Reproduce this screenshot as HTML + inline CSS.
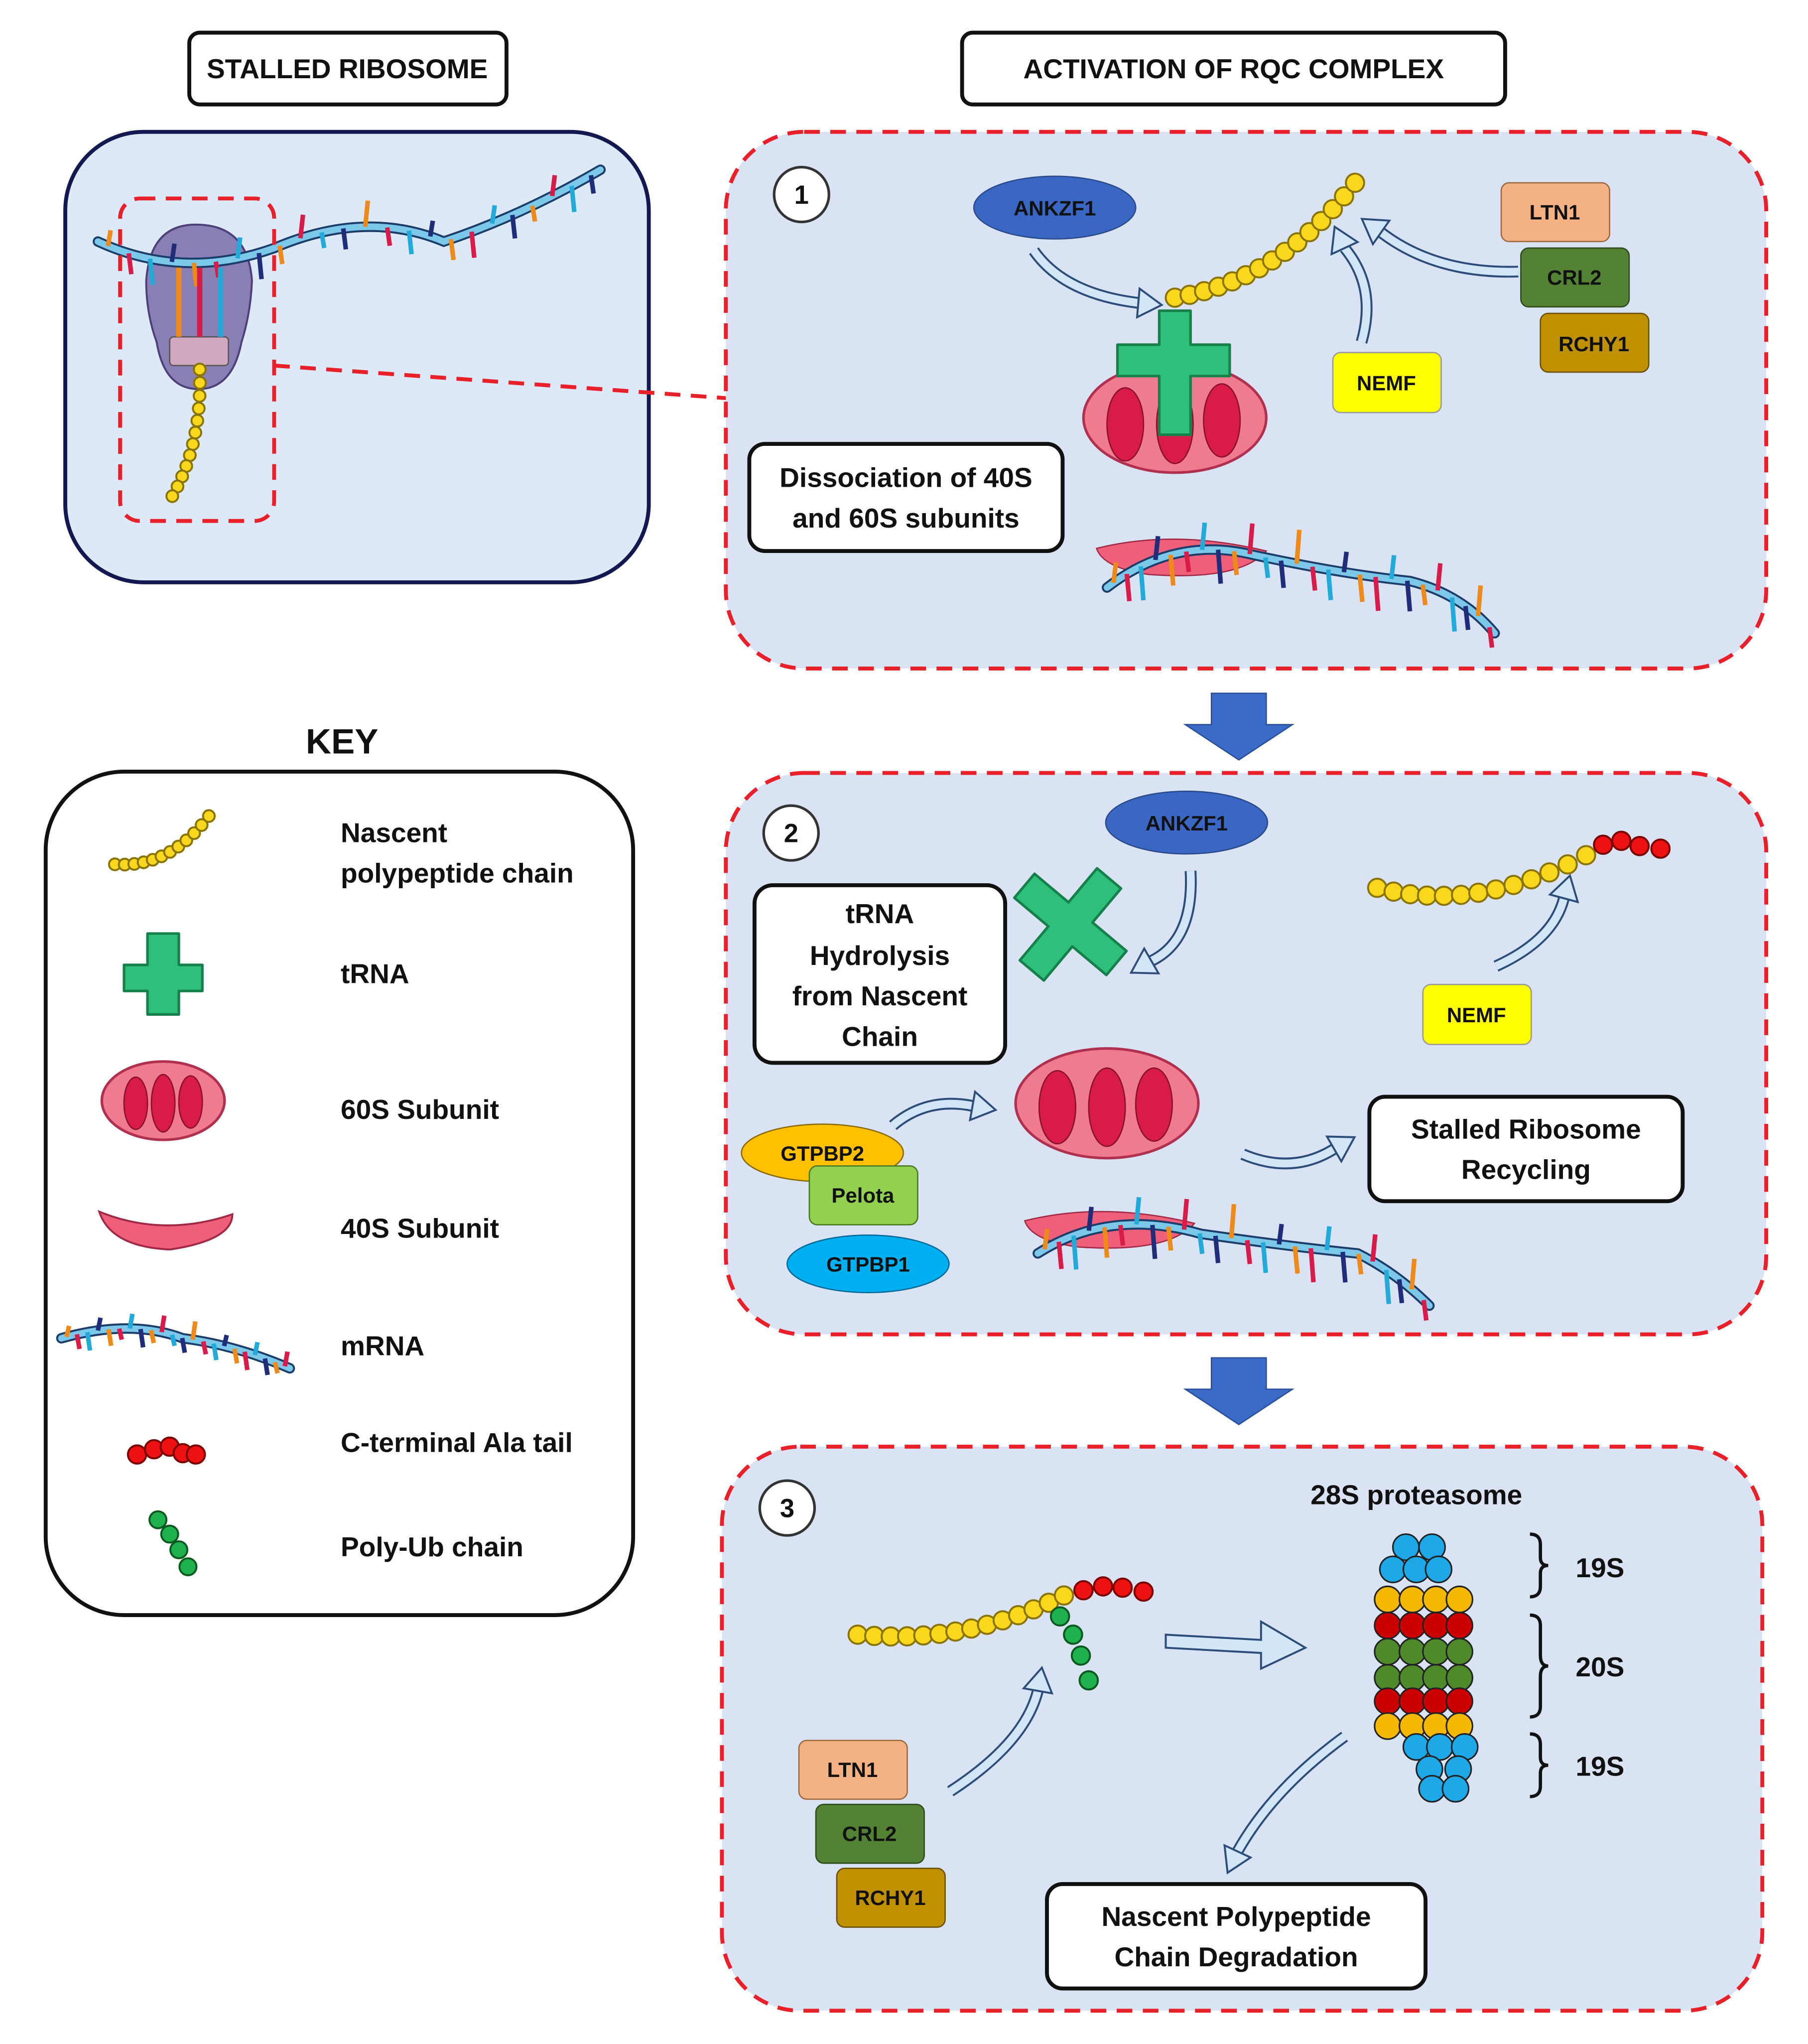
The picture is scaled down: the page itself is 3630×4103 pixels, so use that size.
<!DOCTYPE html>
<html><head><meta charset="utf-8"><style>
html,body{margin:0;padding:0;background:#fff;}
svg{display:block;}
text{font-family:"Liberation Sans",sans-serif;font-weight:bold;fill:#111;}
</style></head><body>
<svg id="s" width="3630" height="4103" viewBox="0 0 1385 1565.5" preserveAspectRatio="none" xmlns="http://www.w3.org/2000/svg">
<rect width="1385" height="1566" fill="#fff"/>
<rect x="145" y="25" width="243" height="55" rx="8" fill="#fff" stroke="#111" stroke-width="3"/>
<text x="266" y="60" font-size="21" text-anchor="middle">STALLED RIBOSOME</text>
<rect x="737" y="25" width="416" height="55" rx="8" fill="#fff" stroke="#111" stroke-width="3"/>
<text x="945" y="60" font-size="21" text-anchor="middle">ACTIVATION OF RQC COMPLEX</text>

<rect x="50" y="101" width="447" height="345" rx="60" fill="#dde9f7" stroke="#141850" stroke-width="3"/>
<path d="M210,280 L557,305" stroke="#e8202a" stroke-width="3" stroke-dasharray="12,8" fill="none"/>
<path d="M150,172 Q190,172 193,215 Q192,240 185,262 Q178,298 152,298 Q126,298 120,262 Q112,240 112,215 Q115,172 150,172Z" fill="#8a7fb5" stroke="#4d3f7a" stroke-width="1.5"/>
<rect x="130" y="258" width="45" height="22" rx="3" fill="#d2a8c0" stroke="#555"/>
<g id="mr0"></g>
<rect x="92" y="152" width="118" height="247" rx="15" fill="none" stroke="#e8202a" stroke-width="3" stroke-dasharray="12,8"/>

<rect x="556" y="101" width="797" height="411" rx="60" fill="#d9e3f3" stroke="#e8202a" stroke-width="3" stroke-dasharray="12,8"/>
<rect x="556" y="592" width="797" height="430" rx="60" fill="#d9e3f3" stroke="#e8202a" stroke-width="3" stroke-dasharray="12,8"/>
<rect x="553" y="1108" width="797" height="432" rx="60" fill="#d9e3f3" stroke="#e8202a" stroke-width="3" stroke-dasharray="12,8"/>

<polygon points="928,531 970,531 970,555 990,555 949,582 908,555 928,555" fill="#3a6bc8" stroke="#2a4f9a"/>
<polygon points="928,1040 970,1040 970,1064 990,1064 949,1091 908,1064 928,1064" fill="#3a6bc8" stroke="#2a4f9a"/>

<g font-size="20">
<circle cx="614" cy="149" r="21" fill="#fff" stroke="#333" stroke-width="2"/><text x="614" y="156" text-anchor="middle">1</text>
<circle cx="606" cy="638" r="21" fill="#fff" stroke="#333" stroke-width="2"/><text x="606" y="645" text-anchor="middle">2</text>
<circle cx="603" cy="1155" r="21" fill="#fff" stroke="#333" stroke-width="2"/><text x="603" y="1162" text-anchor="middle">3</text>
</g>

<ellipse cx="808" cy="159" rx="62" ry="24" fill="#3a67c4" stroke="#2a4a8a"/>
<text x="808" y="165" font-size="16" text-anchor="middle">ANKZF1</text>
<rect x="1150" y="140" width="83" height="45" rx="6" fill="#f4b183" stroke="#9a6a40"/><text x="1191" y="168" font-size="16" text-anchor="middle">LTN1</text>
<rect x="1165" y="190" width="83" height="45" rx="6" fill="#548235" stroke="#2f4a1d"/><text x="1206" y="218" font-size="16" text-anchor="middle">CRL2</text>
<rect x="1180" y="240" width="83" height="45" rx="6" fill="#bf9000" stroke="#6a5000"/><text x="1221" y="269" font-size="16" text-anchor="middle">RCHY1</text>
<rect x="1021" y="270" width="83" height="46" rx="6" fill="#ffff00" stroke="#999"/><text x="1062" y="299" font-size="16" text-anchor="middle">NEMF</text>
<g id="arr1"></g>
<ellipse cx="900" cy="320" rx="70" ry="42" fill="#f07a8e" stroke="#b03050" stroke-width="2"/>
<ellipse cx="862" cy="325" rx="14" ry="28" fill="#d81b48" stroke="#8a1030"/>
<ellipse cx="900" cy="325" rx="14" ry="30" fill="#d81b48" stroke="#8a1030"/>
<ellipse cx="936" cy="322" rx="14" ry="28" fill="#d81b48" stroke="#8a1030"/>
<path d="M888,238 h24 v26 h30 v24 h-30 v45 h-24 v-45 h-32 v-24 h32Z" fill="#2ebf7a" stroke="#16804a" stroke-width="2" stroke-linejoin="round"/>
<rect x="574" y="340" width="240" height="82" rx="12" fill="#fff" stroke="#111" stroke-width="3"/>
<text x="694" y="373" font-size="21" text-anchor="middle">Dissociation of 40S</text>
<text x="694" y="404" font-size="21" text-anchor="middle">and 60S subunits</text>
<path d="M840,420 Q900,405 970,422 Q950,445 880,440 Q845,435 840,420Z" fill="#ef5f7a" stroke="#a02a45"/>
<g id="mr1"></g>
<g id="ch1"></g>

<ellipse cx="909" cy="630" rx="62" ry="24" fill="#3a67c4" stroke="#2a4a8a"/>
<text x="909" y="636" font-size="16" text-anchor="middle">ANKZF1</text>
<g transform="rotate(40 820 708)"><path d="M808,662 h24 v34 h34 v24 h-34 v34 h-24 v-34 h-34 v-24 h34Z" fill="#2ebf7a" stroke="#16804a" stroke-width="2" stroke-linejoin="round"/></g>
<rect x="578" y="678" width="192" height="136" rx="14" fill="#fff" stroke="#111" stroke-width="3"/>
<text x="674" y="707" font-size="21" text-anchor="middle">tRNA</text>
<text x="674" y="739" font-size="21" text-anchor="middle">Hydrolysis</text>
<text x="674" y="770" font-size="21" text-anchor="middle">from Nascent</text>
<text x="674" y="801" font-size="21" text-anchor="middle">Chain</text>
<rect x="1090" y="754" width="83" height="46" rx="6" fill="#ffff00" stroke="#999"/><text x="1131" y="783" font-size="16" text-anchor="middle">NEMF</text>
<ellipse cx="848" cy="845" rx="70" ry="42" fill="#f07a8e" stroke="#b03050" stroke-width="2"/>
<ellipse cx="810" cy="848" rx="14" ry="28" fill="#d81b48" stroke="#8a1030"/>
<ellipse cx="848" cy="848" rx="14" ry="30" fill="#d81b48" stroke="#8a1030"/>
<ellipse cx="884" cy="846" rx="14" ry="28" fill="#d81b48" stroke="#8a1030"/>
<ellipse cx="630" cy="883" rx="62" ry="22" fill="#ffc000" stroke="#8a6a00"/><text x="630" y="889" font-size="16" text-anchor="middle">GTPBP2</text>
<rect x="620" y="893" width="83" height="45" rx="6" fill="#92d050" stroke="#4a7a20"/><text x="661" y="921" font-size="16" text-anchor="middle">Pelota</text>
<ellipse cx="665" cy="968" rx="62" ry="22" fill="#00b0f0" stroke="#006a9a"/><text x="665" y="974" font-size="16" text-anchor="middle">GTPBP1</text>
<rect x="1049" y="840" width="240" height="80" rx="12" fill="#fff" stroke="#111" stroke-width="3"/>
<text x="1169" y="872" font-size="21" text-anchor="middle">Stalled Ribosome</text>
<text x="1169" y="903" font-size="21" text-anchor="middle">Recycling</text>
<path d="M785,935 Q845,920 915,937 Q895,960 825,955 Q790,950 785,935Z" fill="#ef5f7a" stroke="#a02a45"/>
<g id="mr2"></g>
<g id="ch2"></g>

<text x="1085" y="1152" font-size="21" text-anchor="middle">28S proteasome</text>
<g id="prot"></g>
<g fill="none" stroke="#111" stroke-width="2.5">
<path d="M1172,1175 q8,0 8,8 v10 q0,6 6,6 q-6,0 -6,6 v10 q0,8 -8,8"/>
<path d="M1172,1237 q8,0 8,8 v23 q0,8 6,8 q-6,0 -6,8 v23 q0,8 -8,8"/>
<path d="M1172,1328 q8,0 8,8 v10 q0,6 6,6 q-6,0 -6,6 v10 q0,8 -8,8"/>
</g>
<text x="1207" y="1208" font-size="21">19S</text>
<text x="1207" y="1284" font-size="21">20S</text>
<text x="1207" y="1360" font-size="21">19S</text>
<rect x="612" y="1333" width="83" height="45" rx="6" fill="#f4b183" stroke="#9a6a40"/><text x="653" y="1361" font-size="16" text-anchor="middle">LTN1</text>
<rect x="625" y="1382" width="83" height="45" rx="6" fill="#548235" stroke="#2f4a1d"/><text x="666" y="1410" font-size="16" text-anchor="middle">CRL2</text>
<rect x="641" y="1431" width="83" height="45" rx="6" fill="#bf9000" stroke="#6a5000"/><text x="682" y="1459" font-size="16" text-anchor="middle">RCHY1</text>
<rect x="802" y="1443" width="290" height="80" rx="12" fill="#fff" stroke="#111" stroke-width="3"/>
<text x="947" y="1475" font-size="21" text-anchor="middle">Nascent Polypeptide</text>
<text x="947" y="1506" font-size="21" text-anchor="middle">Chain Degradation</text>
<g id="ch3"></g>

<text x="262" y="577" font-size="27" text-anchor="middle">KEY</text>
<rect x="35" y="591" width="450" height="646" rx="60" fill="#fff" stroke="#111" stroke-width="3"/>
<g font-size="21">
<text x="261" y="645">Nascent</text>
<text x="261" y="676">polypeptide chain</text>
<text x="261" y="753">tRNA</text>
<text x="261" y="857">60S Subunit</text>
<text x="261" y="948">40S Subunit</text>
<text x="261" y="1038">mRNA</text>
<text x="261" y="1112">C-terminal Ala tail</text>
<text x="261" y="1192">Poly-Ub chain</text>
</g>
<path d="M113,715 h24 v24 h18 v20 h-18 v18 h-24 v-18 h-18 v-20 h18Z" fill="#2ebf7a" stroke="#16804a" stroke-width="2" stroke-linejoin="round"/>
<ellipse cx="125" cy="843" rx="47" ry="30" fill="#f07a8e" stroke="#b03050" stroke-width="2"/>
<ellipse cx="104" cy="845" rx="9" ry="20" fill="#d81b48" stroke="#8a1030"/>
<ellipse cx="125" cy="845" rx="9" ry="22" fill="#d81b48" stroke="#8a1030"/>
<ellipse cx="146" cy="844" rx="9" ry="20" fill="#d81b48" stroke="#8a1030"/>
<path d="M76,928 Q125,948 178,930 Q178,950 130,957 Q85,955 76,928Z" fill="#ef5f7a" stroke="#a02a45" stroke-width="1.5"/>
<g id="mrk"></g>
<g id="chk"></g>
</svg>
<script>
var NS="http://www.w3.org/2000/svg";
function el(p,t,a){var e=document.createElementNS(NS,t);for(var k in a)e.setAttribute(k,a[k]);document.getElementById(p).appendChild(e);return e;}
function beads(p,pts,r,fill,stroke){pts.forEach(function(q){el(p,"circle",{cx:q[0],cy:q[1],r:r,fill:fill,stroke:stroke,"stroke-width":1.5});});}
function curve(p0,p1,p2,n){var a=[];for(var i=0;i<n;i++){var t=i/(n-1),u=1-t;a.push([u*u*p0[0]+2*u*t*p1[0]+t*t*p2[0],u*u*p0[1]+2*u*t*p1[1]+t*t*p2[1]]);}return a;}
var Y="#f9d71c",YS="#8a7400",R="#ee1111",RS="#7a0000",G="#1fb050",GS="#0a5a20";
var cols=["#ee8a1a","#d81b48","#22aad8","#202d7a"];
function mrna(p,d,ticks,len){
 el(p,"path",{d:d,fill:"none",stroke:"#1c3d6a","stroke-width":8,"stroke-linecap":"round"});
 el(p,"path",{d:d,fill:"none",stroke:"#7cc8ea","stroke-width":5,"stroke-linecap":"round"});
 var path=el(p,"path",{d:d,fill:"none",stroke:"none"});var L=path.getTotalLength();
 for(var i=0;i<ticks;i++){var pt=path.getPointAtLength(L*(i+0.5)/ticks);var h=(i%3==0?-1:1)*len*(0.6+0.4*((i*7)%5)/4);
  el(p,"line",{x1:pt.x,y1:pt.y,x2:pt.x+2,y2:pt.y+h,stroke:cols[i%4],"stroke-width":3.5});}
}
mrna("mr0","M75,185 Q140,215 210,190 Q280,160 340,185 Q400,165 460,130",24,20);
for(var i=0;i<3;i++)el("mr0","line",{x1:137+i*16,y1:205,x2:137+i*16,y2:258,stroke:cols[i],"stroke-width":4});
beads("mr0",curve([153,283],[155,340],[132,380],12),4.5,Y,YS);
mrna("mr1","M848,450 Q900,410 960,425 Q1030,440 1080,445 Q1120,455 1145,485",26,26);
beads("ch1",curve([900,228],[980,215],[1038,140],15),7,Y,YS);
mrna("mr2","M795,960 Q850,925 920,945 Q990,955 1040,960 Q1070,975 1095,1000",26,26);
beads("ch2",curve([1055,680],[1130,700],[1215,655],13),7,Y,YS);
beads("ch2",[[1228,647],[1242,644],[1256,648],[1272,650]],7,R,RS);
beads("ch3",curve([657,1252],[740,1260],[815,1222],14),7,Y,YS);
beads("ch3",[[830,1218],[845,1215],[860,1216],[876,1219]],7,R,RS);
beads("ch3",[[812,1238],[822,1252],[828,1268],[834,1287]],7,G,GS);
var rows=[["#1fa8e8",[1077,1097],1185],["#1fa8e8",[1067,1085,1102],1202],["#f5b800",[1063,1082,1100,1118],1225],["#cc0000",[1063,1082,1100,1118],1245],["#4e8a2a",[1063,1082,1100,1118],1265],["#4e8a2a",[1063,1082,1100,1118],1285],["#cc0000",[1063,1082,1100,1118],1303],["#f5b800",[1063,1082,1100,1118],1322],["#1fa8e8",[1085,1103,1122],1338],["#1fa8e8",[1095,1117],1355],["#1fa8e8",[1097,1115],1370]];
rows.forEach(function(r){r[1].forEach(function(x){el("prot","circle",{cx:x,cy:r[2],r:10,fill:r[0],stroke:"#222","stroke-width":1.2});});});
beads("chk",curve([88,662],[130,665],[160,625],12),4.5,Y,YS);
mrna("mrk","M47,1025 Q100,1010 140,1025 Q180,1030 222,1048",22,14);
beads("chk",[[105,1114],[118,1110],[130,1108],[140,1113],[150,1114]],7,R,RS);
beads("chk",[[121,1164],[130,1175],[137,1187],[144,1200]],6.5,G,GS);
function arr(d,hx,hy,ang){
 el("arr1","path",{d:d,fill:"none",stroke:"#2c4c7a","stroke-width":9});
 el("arr1","path",{d:d,fill:"none",stroke:"#d3e6f8","stroke-width":6});
 el("arr1","polygon",{points:"0,-11 18,0 0,11",fill:"#d3e6f8",stroke:"#2c4c7a","stroke-width":1.5,transform:"translate("+hx+","+hy+") rotate("+ang+")"});
}
arr("M792,192 Q815,225 872,232",872,232,5);
arr("M1163,208 Q1100,210 1058,178",1058,178,-145);
arr("M1043,262 Q1055,220 1030,190",1030,190,-115);
arr("M912,667 Q915,720 882,736",882,736,150);
arr("M1146,740 Q1190,720 1198,688",1198,688,-75);
arr("M684,862 Q710,840 745,847",745,847,10);
arr("M952,884 Q990,900 1022,880",1022,880,-30);
arr("M728,1372 Q785,1335 795,1295",795,1295,-80);
arr("M1030,1330 Q975,1370 948,1418",948,1418,115);
el("arr1","polygon",{points:"893,1252 966,1256 966,1242 1000,1262 966,1278 966,1266 893,1262",fill:"#d3e6f8",stroke:"#2c4c7a","stroke-width":1.5});
</script>
</body></html>
